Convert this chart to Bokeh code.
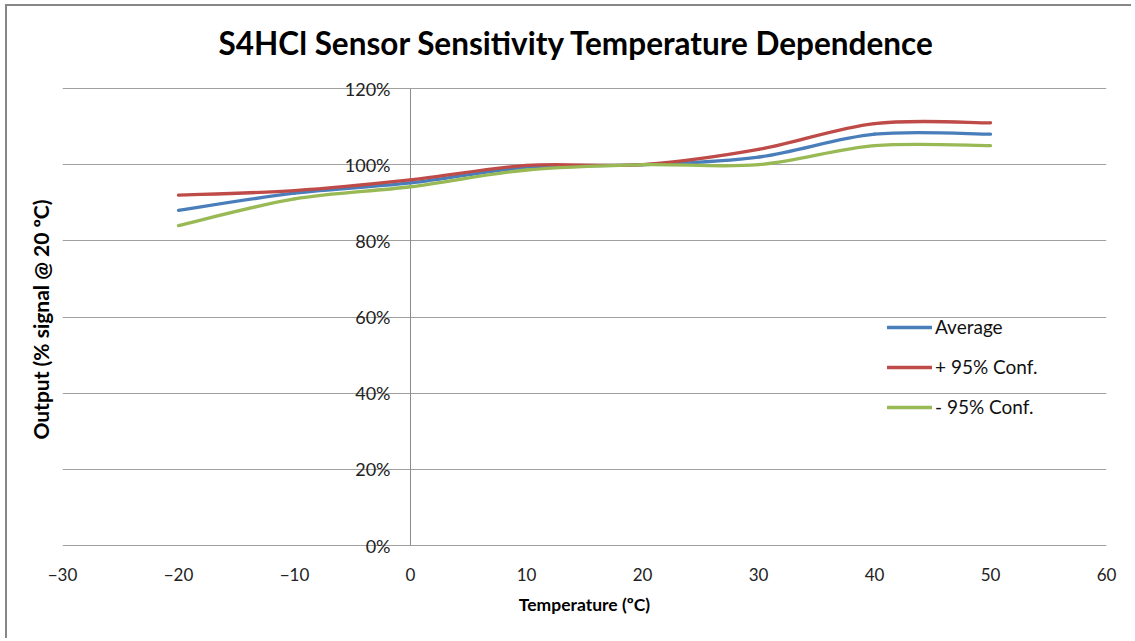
from bokeh.plotting import figure
from bokeh.models import (FixedTicker, PrintfTickFormatter, Legend, LegendItem,
                          ColumnDataSource, Title)
from bokeh.embed import file_html
from bokeh.resources import INLINE

# ---- data ----
temperature = [-20, -10, 0, 10, 20, 30, 40, 50]
average = [88, 92.5, 95.2, 99.3, 100, 102, 108, 108]
plus95 = [92, 93.2, 96, 99.8, 100, 104, 110.8, 111]
minus95 = [84, 91, 94.2, 98.6, 100, 100, 105, 105]
series_names = ["Average", "+ 95% Conf.", "- 95% Conf."]
series_colors = ["#4A7EBB", "#BE4B48", "#98B954"]
x_ticks = [-30, -20, -10, 0, 10, 20, 30, 40, 50, 60]
y_ticks = [0, 20, 40, 60, 80, 100, 120]
chart_title = "S4HCl Sensor Sensitivity Temperature Dependence"

FONT = "Lato"


def smooth_segments(xs, ys):
    """Bezier control points for an Excel-like smoothed line through the points."""
    n = len(xs)
    d = dict(x0=[], y0=[], x1=[], y1=[], cx0=[], cy0=[], cx1=[], cy1=[])
    for i in range(n - 1):
        xp, yp = (xs[i - 1], ys[i - 1]) if i > 0 else (xs[i], ys[i])
        xn, yn = (xs[i + 2], ys[i + 2]) if i + 2 < n else (xs[i + 1], ys[i + 1])
        d["x0"].append(xs[i]); d["y0"].append(ys[i])
        d["x1"].append(xs[i + 1]); d["y1"].append(ys[i + 1])
        d["cx0"].append(xs[i] + (xs[i + 1] - xp) / 6)
        d["cy0"].append(ys[i] + (ys[i + 1] - yp) / 6)
        d["cx1"].append(xs[i + 1] - (xn - xs[i]) / 6)
        d["cy1"].append(ys[i + 1] - (yn - ys[i]) / 6)
    return ColumnDataSource(d)


# small padding so the end tick labels are not clipped by the frame
ypad = 11 / (457 / 120)

p = figure(width=1126, height=634, output_backend="svg", toolbar_location=None,
           x_range=(x_ticks[0], x_ticks[-1]), y_range=(y_ticks[0] - ypad, y_ticks[-1] + ypad),
           min_border_left=55, min_border_right=27, min_border_top=71, min_border_bottom=84)

p.title.text = chart_title
p.title.text_font = FONT
p.title.text_font_size = "31.5px"
p.title.text_font_style = "bold"
p.title.align = "left"
p.title.offset = 156
p.title.standoff = 31
p.title.text_line_height = 0.72
p.title.text_color = "#000000"

p.outline_line_color = None
p.xgrid.grid_line_color = None
p.ygrid.grid_line_color = "#A0A0A0"
p.ygrid.grid_line_width = 1

# x axis
p.xaxis.ticker = FixedTicker(ticks=x_ticks)
p.xaxis.major_tick_line_color = None
p.xaxis.minor_tick_line_color = None
p.xaxis.major_tick_out = 0
p.xaxis.major_tick_in = 0
p.xaxis.axis_line_color = None
p.xaxis.major_label_text_font = FONT
p.xaxis.major_label_text_font_size = "17px"
p.xaxis.major_label_text_color = "#222222"
p.xaxis.major_label_standoff = 11
p.xaxis.axis_label = "Temperature (ºC)"
p.xaxis.axis_label_text_font = FONT
p.xaxis.axis_label_text_font_size = "17.5px"
p.xaxis.axis_label_text_font_style = "bold"
p.xaxis.axis_label_text_color = "#000000"
p.xaxis.axis_label_standoff = 10

# y axis crossing at x = 0
p.yaxis.fixed_location = 0
p.yaxis.ticker = FixedTicker(ticks=y_ticks)
p.yaxis.formatter = PrintfTickFormatter(format="%d%%")
p.yaxis.major_tick_line_color = None
p.yaxis.minor_tick_line_color = None
p.yaxis.major_tick_out = 0
p.yaxis.major_tick_in = 0
p.yaxis.axis_line_color = None
p.yaxis.major_label_text_font = FONT
p.yaxis.major_label_text_font_size = "18px"
p.yaxis.major_label_text_color = "#222222"
p.yaxis.major_label_standoff = 20

# vertical axis line from 0% to 120% at x = 0
p.segment(x0=[0], y0=[y_ticks[0]], x1=[0], y1=[y_ticks[-1]], line_color="#8C8C8C", line_width=1)

p.add_layout(Title(text="Output (%  signal @ 20 ºC)", text_font=FONT, text_font_size="21px",
                   text_font_style="bold", align="center", standoff=20, offset=-9,
                   text_color="#000000"), "left")

renderers = []
for ys, color in zip([average, plus95, minus95], series_colors):
    src = smooth_segments(temperature, ys)
    r = p.bezier(x0="x0", y0="y0", x1="x1", y1="y1", cx0="cx0", cy0="cy0", cx1="cx1", cy1="cy1",
                 source=src, line_color=color, line_width=3.3, line_cap="round")
    renderers.append(r)

legend = Legend(items=[LegendItem(label=n, renderers=[r]) for n, r in zip(series_names, renderers)],
                location=(825, 138), background_fill_alpha=0, border_line_color=None,
                padding=0, margin=0, spacing=17, glyph_width=45, glyph_height=22,
                label_height=22, label_standoff=3,
                label_text_font=FONT, label_text_font_size="19px", label_text_color="#111111")
p.add_layout(legend, "center")

p.styles = {"border-top": "2px solid #878787", "border-left": "2px solid #878787",
            "margin-left": "5px", "margin-top": "4px"}

open("out.html", "w").write(file_html(p, INLINE))
